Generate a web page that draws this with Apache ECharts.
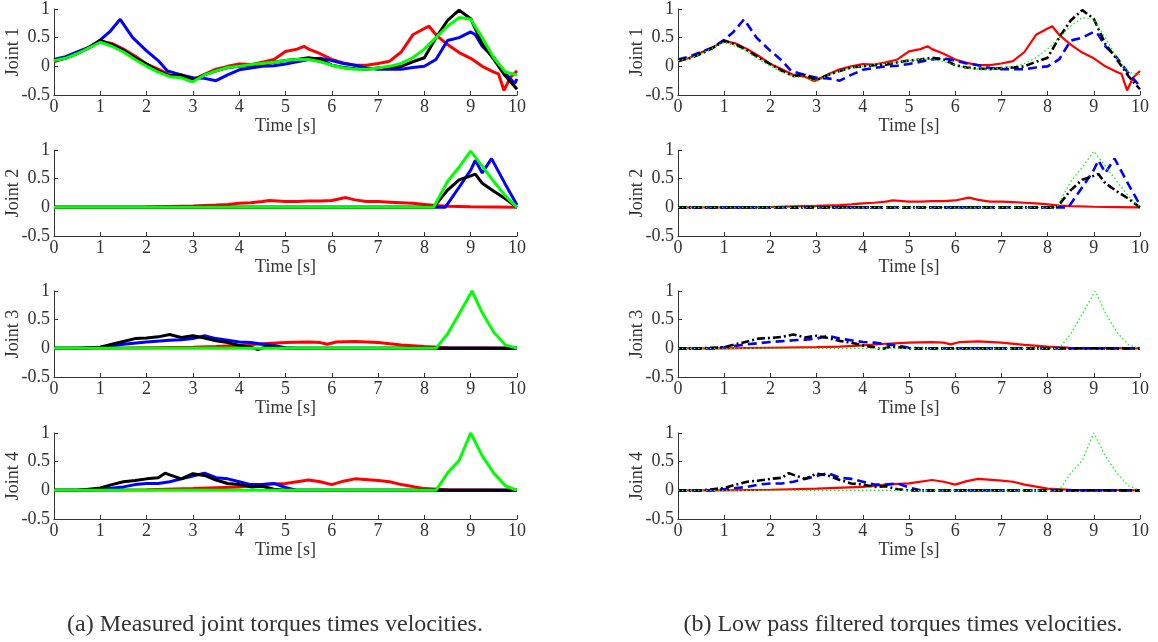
<!DOCTYPE html>
<html>
<head>
<meta charset="utf-8">
<script src="https://cdn.jsdelivr.net/npm/echarts@6/dist/echarts.min.js"></script>
<style>
html, body { margin: 0; padding: 0; background: #fff; }
#chart { width: 1158px; height: 642px; }
</style>
</head>
<body>
<div id="chart"></div>
<script>
// joint 1 : [time, torque*velocity]
var j1Red = [[0,0.08],[0.25,0.15],[0.5,0.24],[0.75,0.33],[1,0.44],[1.25,0.4],[1.5,0.3],[1.75,0.18],[2,0.04],[2.25,-0.05],[2.5,-0.15],[2.75,-0.18],[2.95,-0.26],[3.25,-0.14],[3.5,-0.05],[3.75,0],[4,0.04],[4.25,0.03],[4.5,0.07],[4.75,0.12],[5,0.26],[5.25,0.3],[5.4,0.35],[5.5,0.3],[5.75,0.22],[6,0.12],[6.25,0.06],[6.5,0.02],[6.75,0.02],[7,0.05],[7.25,0.09],[7.5,0.25],[7.75,0.55],[8,0.66],[8.1,0.7],[8.25,0.55],[8.5,0.38],[8.75,0.24],[9,0.14],[9.25,0],[9.5,-0.1],[9.6,-0.13],[9.72,-0.42],[9.85,-0.2],[10,-0.08]];
var j1Blue = [[0,0.12],[0.25,0.17],[0.5,0.25],[0.75,0.33],[1,0.46],[1.2,0.6],[1.43,0.82],[1.7,0.5],[2,0.27],[2.25,0.1],[2.45,-0.08],[2.75,-0.15],[3,-0.2],[3.25,-0.21],[3.5,-0.25],[3.75,-0.15],[4,-0.06],[4.25,-0.03],[4.5,0],[4.75,0.01],[5,0.04],[5.25,0.08],[5.5,0.12],[5.75,0.14],[6,0.1],[6.25,0.05],[6.5,0.02],[6.75,-0.03],[7,-0.05],[7.25,-0.05],[7.5,-0.05],[7.75,-0.02],[8,0],[8.25,0.12],[8.5,0.45],[8.75,0.5],[9,0.6],[9.1,0.55],[9.25,0.35],[9.5,0.15],[9.75,-0.12],[9.95,-0.3],[10,-0.22]];
var j1Black = [[0,0.1],[0.25,0.14],[0.5,0.22],[0.75,0.32],[1,0.45],[1.25,0.38],[1.5,0.28],[1.75,0.15],[2,0.04],[2.25,-0.08],[2.5,-0.17],[2.75,-0.15],[3,-0.24],[3.25,-0.15],[3.5,-0.08],[3.75,-0.02],[4,0],[4.25,0.02],[4.5,0.03],[4.75,0.07],[5,0.1],[5.25,0.12],[5.5,0.15],[5.75,0.12],[6,0.02],[6.25,-0.02],[6.5,-0.04],[6.75,-0.05],[7,-0.03],[7.25,-0.02],[7.5,0],[7.75,0.08],[8,0.15],[8.25,0.5],[8.5,0.8],[8.75,0.98],[9,0.83],[9.25,0.39],[9.5,0.12],[9.75,-0.17],[10,-0.4]];
var j1Green = [[0,0.1],[0.25,0.14],[0.5,0.22],[0.75,0.32],[1,0.42],[1.25,0.35],[1.5,0.25],[1.75,0.12],[2,0],[2.25,-0.1],[2.5,-0.18],[2.75,-0.2],[3,-0.27],[3.25,-0.15],[3.5,-0.08],[3.75,-0.02],[4,0],[4.25,0.03],[4.5,0.05],[4.75,0.07],[5,0.1],[5.25,0.12],[5.5,0.12],[5.75,0.08],[6,0.02],[6.25,-0.03],[6.5,-0.05],[6.75,-0.05],[7,-0.03],[7.25,0],[7.5,0.05],[7.75,0.15],[8,0.3],[8.25,0.5],[8.5,0.7],[8.75,0.85],[9,0.82],[9.25,0.5],[9.5,0.15],[9.75,-0.1],[10,-0.15]];

// joint 2
var j2Red = [[0,0],[1.5,0],[2,0.005],[2.5,0.015],[3,0.025],[3.5,0.04],[3.75,0.05],[4,0.07],[4.25,0.08],[4.5,0.1],[4.65,0.12],[5,0.1],[5.25,0.1],[5.5,0.11],[5.75,0.11],[6,0.12],[6.3,0.17],[6.5,0.13],[6.75,0.1],[7,0.1],[7.25,0.09],[7.5,0.08],[7.75,0.07],[8,0.05],[8.25,0.03],[8.5,0.02],[9,0.01],[9.5,0.005],[10,0]];
var j2Blue = [[0,0],[8.45,0],[8.75,0.35],[9,0.65],[9.1,0.82],[9.25,0.6],[9.45,0.85],[9.75,0.4],[10,0.04]];
var j2Black = [[0,0],[8.2,0],[8.5,0.3],[8.75,0.48],[9,0.55],[9.1,0.58],[9.25,0.42],[9.5,0.28],[9.75,0.15],[10,0]];
var j2Green = [[0,0],[8.2,0],[8.5,0.45],[8.75,0.7],[9,0.98],[9.25,0.72],[9.5,0.45],[9.75,0.2],[10,0]];

// joint 3
var j3Red = [[0,0],[1,0],[2,0.01],[3,0.02],[3.5,0.03],[4,0.05],[4.5,0.08],[5,0.1],[5.5,0.11],[5.75,0.1],[5.9,0.07],[6.1,0.11],[6.5,0.12],[7,0.1],[7.5,0.06],[8,0.03],[8.5,0.01],[10,0]];
var j3Blue = [[0,0],[0.75,0],[1,0.02],[1.5,0.07],[2,0.11],[2.5,0.14],[2.75,0.15],[3,0.17],[3.25,0.22],[3.5,0.17],[3.75,0.14],[4,0.11],[4.25,0.1],[4.5,0.07],[4.75,0.05],[5,0.01],[5.25,0],[10,0]];
var j3Black = [[0,0],[0.5,0],[1,0.02],[1.25,0.07],[1.5,0.12],[1.75,0.17],[2,0.18],[2.25,0.2],[2.5,0.24],[2.75,0.19],[3,0.22],[3.25,0.18],[3.5,0.13],[3.75,0.1],[4,0.05],[4.25,0.02],[4.4,-0.02],[4.6,0.03],[5,0],[10,0]];
var j3Green = [[0,0],[8.25,0],[8.5,0.25],[8.75,0.6],[9.03,1],[9.25,0.62],[9.5,0.28],[9.75,0.06],[10,0]];

// joint 4
var j4Red = [[0,0],[1,0],[2,0.01],[3,0.03],[4,0.06],[4.5,0.1],[5,0.12],[5.5,0.18],[5.75,0.15],[6,0.1],[6.25,0.16],[6.5,0.2],[7,0.17],[7.25,0.15],[7.5,0.1],[8,0.03],[8.5,0.01],[10,0]];
var j4Blue = [[0,0],[0.75,0],[1,0.02],[1.5,0.06],[1.75,0.1],[2,0.12],[2.25,0.12],[2.5,0.15],[2.75,0.2],[3,0.25],[3.25,0.3],[3.5,0.22],[3.75,0.2],[4,0.15],[4.25,0.1],[4.5,0.1],[4.75,0.12],[5,0.05],[5.25,0],[10,0]];
var j4Black = [[0,0],[0.5,0],[0.75,0.02],[1,0.04],[1.25,0.1],[1.5,0.15],[1.75,0.17],[2,0.2],[2.25,0.22],[2.4,0.3],[2.5,0.27],[2.75,0.2],[3,0.29],[3.25,0.26],[3.5,0.18],[3.75,0.12],[4,0.1],[4.25,0.06],[4.5,0.07],[4.75,0.02],[5,0],[10,0]];
var j4Green = [[0,0],[8.25,0],[8.5,0.3],[8.75,0.52],[9,1],[9.25,0.6],[9.5,0.3],[9.75,0.08],[10,0]];

var joints = [
    [j1Red, j1Blue, j1Black, j1Green],
    [j2Red, j2Blue, j2Black, j2Green],
    [j3Red, j3Blue, j3Black, j3Green],
    [j4Red, j4Blue, j4Black, j4Green]
];
var jointNames = ['Joint 1', 'Joint 2', 'Joint 3', 'Joint 4'];
var captions = ['(a) Measured joint torques times velocities.', '(b) Low pass filtered torques times velocities.'];

var FONT = '"Liberation Serif", "DejaVu Serif", serif';
var TXT = '#333';
var colors = ['#ff0000', '#0000ff', '#000000', '#00ff00'];
// filtered panel line styles: solid, dashed, dash-dot, dotted
var rightStyles = [
    { width: 2.2, type: 'solid' },
    { width: 2.6, type: [9, 5] },
    { width: 2.6, type: [8, 3, 2, 3] },
    { width: 1.3, type: [1.5, 2.5] }
];

var colLeft = [54, 678];
var colWidth = [463, 462];
var rowTop = [9, 150, 291, 433];
var rowHeight = 86;

var grids = [], xAxes = [], yAxes = [], series = [];

for (var c = 0; c < 2; c++) {
    for (var r = 0; r < 4; r++) {
        var idx = grids.length;
        grids.push({
            left: colLeft[c], top: rowTop[r], width: colWidth[c], height: rowHeight,
            outerBoundsMode: 'none'
        });
        xAxes.push({
            gridIndex: idx,
            type: 'value', min: 0, max: 10, interval: 1,
            name: 'Time [s]', nameLocation: 'middle', nameGap: 22,
            nameMoveOverlap: false,
            nameTextStyle: { fontFamily: FONT, fontSize: 18, color: TXT, verticalAlign: 'top' },
            axisLine: { onZero: false, lineStyle: { color: '#333', width: 1 } },
            axisTick: { show: true, inside: true, length: 4, lineStyle: { color: '#333' } },
            axisLabel: { margin: 3, fontFamily: FONT, fontSize: 18, color: TXT },
            splitLine: { show: false }
        });
        yAxes.push({
            gridIndex: idx,
            type: 'value', min: -0.5, max: 1, interval: 0.5,
            name: jointNames[r], nameLocation: 'middle', nameGap: 32,
            nameMoveOverlap: false,
            nameTextStyle: { fontFamily: FONT, fontSize: 18, color: TXT },
            axisLine: { show: true, lineStyle: { color: '#333', width: 1 } },
            axisTick: { show: true, inside: true, length: 4, lineStyle: { color: '#333' } },
            axisLabel: { margin: 4, fontFamily: FONT, fontSize: 18, color: TXT },
            splitLine: { show: false }
        });
        for (var s = 0; s < 4; s++) {
            var ls = c === 0 ? { width: 3, type: 'solid' } : rightStyles[s];
            series.push({
                type: 'line',
                xAxisIndex: idx, yAxisIndex: idx,
                data: joints[r][s],
                symbol: 'none',
                z: 2 + s,
                lineStyle: { color: colors[s], width: ls.width, type: ls.type },
                silent: true
            });
        }
    }
}

var chart = echarts.init(document.getElementById('chart'));
chart.setOption({
    backgroundColor: '#fff',
    animation: false,
    grid: grids,
    xAxis: xAxes,
    yAxis: yAxes,
    series: series,
    graphic: [
        { type: 'text', x: 275, y: 625, style: { text: captions[0], font: '24px ' + FONT, fill: TXT, align: 'center', verticalAlign: 'middle' } },
        { type: 'text', x: 903, y: 625, style: { text: captions[1], font: '24px ' + FONT, fill: TXT, align: 'center', verticalAlign: 'middle' } }
    ]
});
</script>
</body>
</html>
